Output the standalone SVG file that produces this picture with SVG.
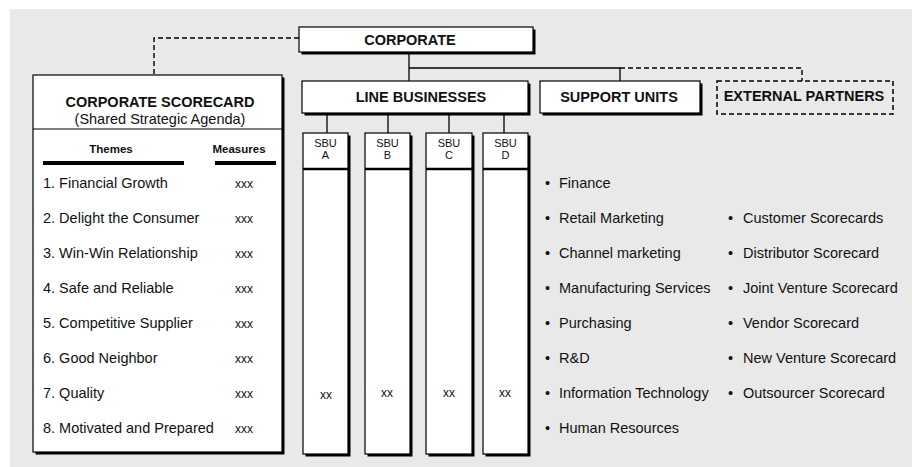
<svg xmlns="http://www.w3.org/2000/svg" width="912" height="467" viewBox="0 0 912 467">
<defs>
<style>
text{font-family:"Liberation Sans",Arial,sans-serif;fill:#111}
.b{font-weight:bold}
.h{font-size:14.5px;font-weight:bold;text-anchor:middle}
.t{font-size:14.5px}
.m{font-size:12px;text-anchor:middle}
.s{font-size:11px;text-anchor:middle}
.sh{fill:#000}
.bx{fill:#fff;stroke:#000;stroke-width:1.2}
.ln{fill:none;stroke:#000;stroke-width:1.3}
.dl{fill:none;stroke:#000;stroke-width:1.4;stroke-dasharray:5 3}
</style>
</defs>
<rect x="10" y="9" width="902" height="458" fill="#e9e9e9"/>
<g id="connectors">
<path class="dl" d="M299,38 H154 V75"/>
<path class="ln" d="M409,52 V81 M409,68 H620 V81"/>
<path class="dl" d="M620,68 H802 V81"/>
<path class="ln" d="M327,114 V133 M388,114 V133 M449,114 V133 M504,114 V133"/>
</g>
<g id="corporate">
<rect class="sh" x="301.5" y="29.5" width="234" height="25"/>
<rect class="bx" x="299" y="27" width="234" height="25"/>
<text class="h" x="410" y="45">CORPORATE</text>
</g>
<g id="corporate-scorecard">
<rect class="sh" x="35.5" y="77.5" width="249" height="377"/>
<rect class="bx" x="33" y="75" width="249" height="377"/>
<line x1="33" y1="129" x2="282" y2="129" stroke="#000" stroke-width="1.2"/>
<text class="h" x="160" y="107">CORPORATE SCORECARD</text>
<text class="t" x="160" y="124" text-anchor="middle">(Shared Strategic Agenda)</text>
<text class="b" x="111" y="153" font-size="11.5" text-anchor="middle">Themes</text>
<text class="b" x="239" y="153" font-size="11.5" text-anchor="middle">Measures</text>
<rect x="43" y="161" width="141" height="4" fill="#000"/>
<rect x="215" y="161" width="61" height="4" fill="#000"/>
<text class="t" x="43" y="188">1. Financial Growth</text>
<text class="t" x="43" y="223">2. Delight the Consumer</text>
<text class="t" x="43" y="258">3. Win-Win Relationship</text>
<text class="t" x="43" y="293">4. Safe and Reliable</text>
<text class="t" x="43" y="328">5. Competitive Supplier</text>
<text class="t" x="43" y="363">6. Good Neighbor</text>
<text class="t" x="43" y="398">7. Quality</text>
<text class="t" x="43" y="433">8. Motivated and Prepared</text>
<text class="m" x="244" y="188">xxx</text>
<text class="m" x="244" y="223">xxx</text>
<text class="m" x="244" y="258">xxx</text>
<text class="m" x="244" y="293">xxx</text>
<text class="m" x="244" y="328">xxx</text>
<text class="m" x="244" y="363">xxx</text>
<text class="m" x="244" y="398">xxx</text>
<text class="m" x="244" y="433">xxx</text>
</g>
<g id="line-businesses">
<rect class="sh" x="304.5" y="83.5" width="226" height="32"/>
<rect class="bx" x="302" y="81" width="226" height="32"/>
<text class="h" x="421" y="102">LINE BUSINESSES</text>
</g>
<g id="support-units">
<rect class="sh" x="542.5" y="83.5" width="160" height="32"/>
<rect class="bx" x="540" y="81" width="160" height="32"/>
<text class="h" x="619" y="102">SUPPORT UNITS</text>
</g>
<g id="external-partners">
<rect x="717" y="81" width="176" height="33" fill="none" stroke="#000" stroke-width="1.5" stroke-dasharray="5 3"/>
<text class="h" x="804" y="101">EXTERNAL PARTNERS</text>
</g>
<g id="sbu-a">
<rect class="sh" x="305.5" y="135.5" width="45" height="321"/>
<rect class="bx" x="303" y="133" width="45" height="321"/>
<line x1="303" y1="169" x2="348" y2="169" stroke="#000" stroke-width="2.5"/>
<text class="s" x="325.5" y="147">SBU</text>
<text class="s" x="325.5" y="159">A</text>
<text class="m" x="326" y="399">xx</text>
</g>
<g id="sbu-b">
<rect class="sh" x="367.5" y="135.5" width="45" height="321"/>
<rect class="bx" x="365" y="133" width="45" height="321"/>
<line x1="365" y1="169" x2="410" y2="169" stroke="#000" stroke-width="2.5"/>
<text class="s" x="387.5" y="147">SBU</text>
<text class="s" x="387.5" y="159">B</text>
<text class="m" x="387" y="397">xx</text>
</g>
<g id="sbu-c">
<rect class="sh" x="428.5" y="135.5" width="46" height="321"/>
<rect class="bx" x="426" y="133" width="46" height="321"/>
<line x1="426" y1="169" x2="472" y2="169" stroke="#000" stroke-width="2.5"/>
<text class="s" x="449" y="147">SBU</text>
<text class="s" x="449" y="159">C</text>
<text class="m" x="449" y="397">xx</text>
</g>
<g id="sbu-d">
<rect class="sh" x="485.5" y="135.5" width="45" height="321"/>
<rect class="bx" x="483" y="133" width="45" height="321"/>
<line x1="483" y1="169" x2="528" y2="169" stroke="#000" stroke-width="2.5"/>
<text class="s" x="505.5" y="147">SBU</text>
<text class="s" x="505.5" y="159">D</text>
<text class="m" x="505" y="397">xx</text>
</g>
<g id="support-list">
<text class="t" x="545" y="188">•</text><text class="t" x="559" y="188">Finance</text>
<text class="t" x="545" y="223">•</text><text class="t" x="559" y="223">Retail Marketing</text>
<text class="t" x="545" y="258">•</text><text class="t" x="559" y="258">Channel marketing</text>
<text class="t" x="545" y="293">•</text><text class="t" x="559" y="293">Manufacturing Services</text>
<text class="t" x="545" y="328">•</text><text class="t" x="559" y="328">Purchasing</text>
<text class="t" x="545" y="363">•</text><text class="t" x="559" y="363">R&amp;D</text>
<text class="t" x="545" y="398">•</text><text class="t" x="559" y="398">Information Technology</text>
<text class="t" x="545" y="433">•</text><text class="t" x="559" y="433">Human Resources</text>
</g>
<g id="partner-list">
<text class="t" x="728" y="223">•</text><text class="t" x="743" y="223">Customer Scorecards</text>
<text class="t" x="728" y="258">•</text><text class="t" x="743" y="258">Distributor Scorecard</text>
<text class="t" x="728" y="293">•</text><text class="t" x="743" y="293">Joint Venture Scorecard</text>
<text class="t" x="728" y="328">•</text><text class="t" x="743" y="328">Vendor Scorecard</text>
<text class="t" x="728" y="363">•</text><text class="t" x="743" y="363">New Venture Scorecard</text>
<text class="t" x="728" y="398">•</text><text class="t" x="743" y="398">Outsourcer Scorecard</text>
</g>
</svg>
